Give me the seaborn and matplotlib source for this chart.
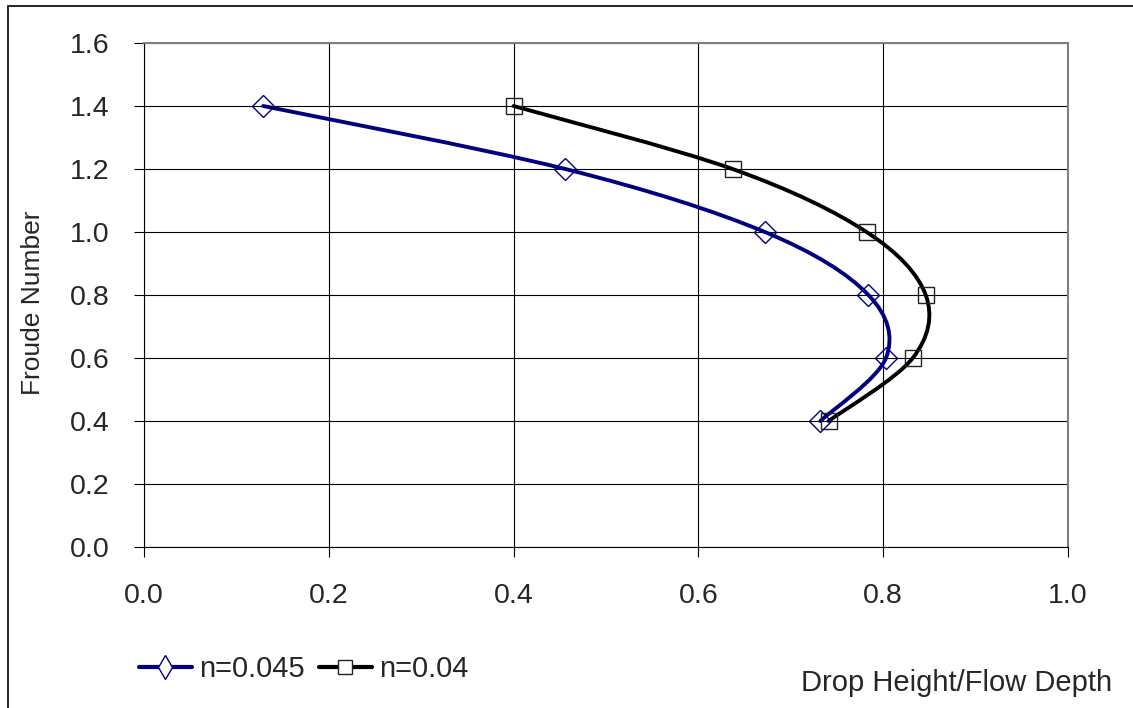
import numpy as np
import matplotlib
matplotlib.use("Agg")
import matplotlib.pyplot as plt
from matplotlib.path import Path
from matplotlib.patches import PathPatch, Rectangle
from matplotlib.lines import Line2D
from matplotlib.ticker import FormatStrFormatter
import seaborn as sns

# Data
froude = [1.4, 1.2, 1.0, 0.8, 0.6, 0.4]
drop_n045 = [0.129, 0.456, 0.672, 0.784, 0.803, 0.732]
drop_n040 = [0.400, 0.637, 0.782, 0.846, 0.832, 0.741]
series_labels = ["n=0.045", "n=0.04"]

x_ticks = [0.0, 0.2, 0.4, 0.6, 0.8, 1.0]
y_ticks = [0.0, 0.2, 0.4, 0.6, 0.8, 1.0, 1.2, 1.4, 1.6]

BLUE = "#000080"
BLACK = "#000000"

sns.set_style("white")
plt.rcParams["font.family"] = ["Liberation Sans", "DejaVu Sans"]


def smooth_path(ax, xs, ys):
    # Excel-like smoothed line: Catmull-Rom segments as cubic Bezier, computed in pixel space
    trans = ax.transData
    pts = trans.transform(np.column_stack([xs, ys]))
    n = len(pts)
    verts = [pts[0]]
    codes = [Path.MOVETO]
    for i in range(n - 1):
        p0 = pts[max(i - 1, 0)]
        p1 = pts[i]
        p2 = pts[i + 1]
        p3 = pts[min(i + 2, n - 1)]
        c1 = p1 + (p2 - p0) / 6.0
        c2 = p2 - (p3 - p1) / 6.0
        verts += [c1, c2, p2]
        codes += [Path.CURVE4] * 3
    verts = trans.inverted().transform(np.array(verts))
    return Path(verts, codes)


fig = plt.figure(figsize=(11.33, 7.08), dpi=100)
ax = fig.add_axes([144 / 1133, 1 - 547 / 708, (1068 - 144) / 1133, (547 - 43) / 708])

ax.set_xlim(0, 1.0)
ax.set_ylim(0, 1.6)
ax.set_xticks(x_ticks)
ax.set_yticks(y_ticks)
ax.xaxis.set_major_formatter(FormatStrFormatter("%.1f"))
ax.yaxis.set_major_formatter(FormatStrFormatter("%.1f"))
ax.grid(True, color="black", linewidth=0.8)
ax.set_axisbelow(True)

for side in ["left", "bottom"]:
    ax.spines[side].set_color("black")
    ax.spines[side].set_linewidth(0.8)
for side in ["top", "right"]:
    ax.spines[side].set_color("#808080")
    ax.spines[side].set_linewidth(1.5)

ax.tick_params(axis="both", direction="out", length=7, width=0.8, color="black",
               labelsize=20.5, left=True, bottom=True)
ax.tick_params(axis="y", pad=18)
ax.tick_params(axis="x", pad=19)

# smoothed lines
for xs, color in [(drop_n045, BLUE), (drop_n040, BLACK)]:
    ax.add_patch(PathPatch(smooth_path(ax, xs, froude), facecolor="none",
                           edgecolor=color, linewidth=2.8, zorder=3,
                           capstyle="round", joinstyle="round"))

# open markers on top
sns.lineplot(x=drop_n045, y=froude, sort=False, ax=ax, marker="D", markersize=11.5,
             markerfacecolor="none", markeredgecolor=BLUE, markeredgewidth=1.0,
             linestyle="", legend=False, zorder=4)
sns.lineplot(x=drop_n040, y=froude, sort=False, ax=ax, marker="s", markersize=11,
             markerfacecolor="none", markeredgecolor="#222222", markeredgewidth=1.0,
             linestyle="", legend=False, zorder=4)

handles = [
    Line2D([], [], color=BLUE, lw=3.0, marker="d", markersize=12, markerfacecolor="white",
           markeredgecolor=BLUE, markeredgewidth=1.0),
    Line2D([], [], color=BLACK, lw=3.0, marker="s", markersize=9.5, markerfacecolor="white",
           markeredgecolor="#222222", markeredgewidth=1.0),
]
fig.legend(handles, series_labels, loc="center left", bbox_to_anchor=(139 / 1133, 1 - 669 / 708),
           ncol=2, frameon=False, fontsize=21, handlelength=1.8, handletextpad=0.25,
           columnspacing=0.5, borderpad=0, borderaxespad=0)

fig.text(1112 / 1133, 1 - 683 / 708, "Drop Height/Flow Depth", ha="right", va="center", fontsize=21)
fig.text(33 / 1133, 1 - 303 / 708, "Froude Number", ha="center", va="center",
         rotation=90, fontsize=19)

# chart-area border
fig.patches.append(Rectangle((8 / 1133, -0.05), 1.2, 0.05 + (708 - 6) / 708,
                             transform=fig.transFigure, fill=False, edgecolor="black",
                             linewidth=1.2))

fig.savefig("out.png", dpi=100)
